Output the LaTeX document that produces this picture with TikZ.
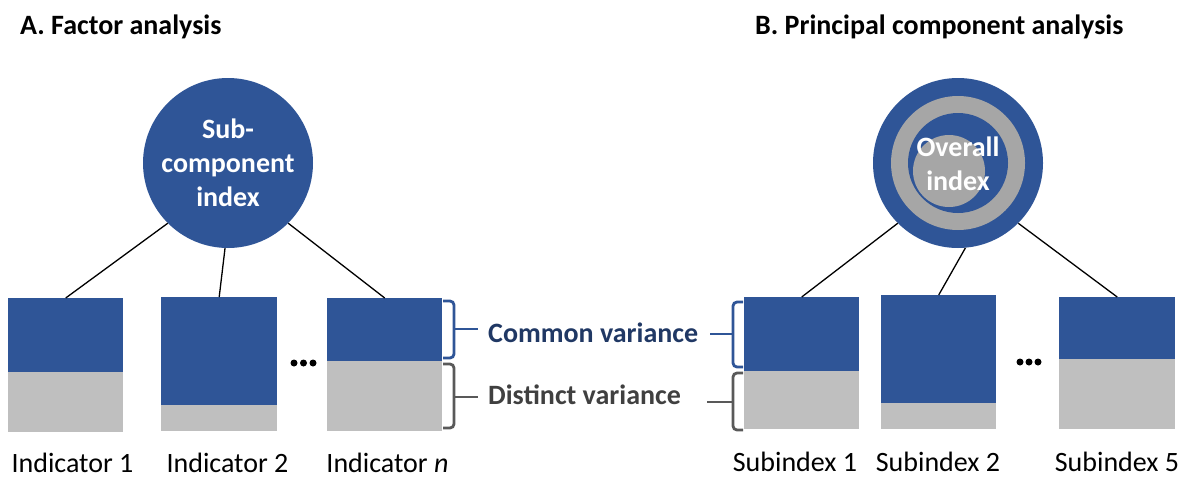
\documentclass[tikz,border=0pt]{standalone}
\usepackage{fontspec}
\setmainfont{Carlito}
\definecolor{mblue}{HTML}{2F5597}
\definecolor{mgray}{HTML}{BFBFBF}
\definecolor{ringgray}{HTML}{A6A6A6}
\definecolor{txtblue}{HTML}{203864}
\definecolor{brgray}{HTML}{595959}
\definecolor{txtgray}{HTML}{404040}
\newcommand{\bigfont}{\fontsize{28pt}{35pt}\selectfont}
\newcommand{\circfont}{\fontsize{28pt}{34pt}\selectfont}
\tikzset{
  bluepart/.style={rectangle, fill=mblue, inner sep=0pt, anchor=north west, minimum width=#1},
  graypart/.style={rectangle, fill=mgray, inner sep=0pt, anchor=north west, minimum width=#1},
  bigcirc/.style={circle, fill=mblue, inner sep=0pt, minimum size=170pt, text=white, font=\circfont\bfseries, align=center},
  link/.style={draw=black, line width=1.3pt},
  lbl/.style={inner sep=0pt, anchor=base, font=\bigfont},
  title/.style={inner sep=0pt, anchor=base west, font=\bigfont\bfseries},
  brblue/.style={draw=mblue, line width=2.8pt, rounded corners=4pt},
  brgr/.style={draw=brgray, line width=2.8pt, rounded corners=4pt},
  dotc/.style={circle, fill=black, inner sep=0pt, minimum size=7pt}
}
\begin{document}
\begin{tikzpicture}[x=1pt,y=-1pt]
\useasboundingbox (0,0) rectangle (1183,477);
% titles
\node[title] (tA) at (20,34) {A. Factor analysis};
\node[title] (tB) at (755,34) {B. Principal component analysis};

% left circle
\node[bigcirc] (fa) at (228,163) {Sub-\\component\\index};

% left boxes
\node[bluepart=115pt, minimum height=74pt] (lb1) at (8,298) {};
\node[graypart=115pt, minimum height=60pt] (lg1) at (8,372) {};
\node[bluepart=116pt, minimum height=108pt] (lb2) at (161,297) {};
\node[graypart=116pt, minimum height=26pt] (lg2) at (161,405) {};
\node[bluepart=115pt, minimum height=63pt] (lb3) at (327,298) {};
\node[graypart=115pt, minimum height=70pt] (lg3) at (327,361) {};

\draw[link] (lb1.north) -- (fa.-135);
\draw[link] (lb2.north) -- (fa.-92);
\draw[link] (lb3.north) -- (fa.-45);

% left dots
\node[dotc] (ld1) at (294,363) {};
\node[dotc] (ld2) at (303.5,363) {};
\node[dotc] (ld3) at (313,363) {};

% left labels
\node[lbl] (li1) at (72.5,472) {Indicator 1};
\node[lbl] (li2) at (227.5,472) {Indicator 2};
\node[lbl] (li3) at (387.5,472) {Indicator \textit{n}};

% right circle
\node[bigcirc] (pca) at (958,163) {};
\fill[ringgray] (pca.center) circle[radius=67];
\fill[mblue] (pca.center) circle[radius=50];
\fill[ringgray] (949,171) circle[radius=36];
\node[inner sep=0pt, text=white, font=\circfont\bfseries, align=center] (pcat) at (958,164) {Overall\\index};

% right boxes
\node[bluepart=115pt, minimum height=74pt] (rb1) at (744,297) {};
\node[graypart=115pt, minimum height=58pt] (rg1) at (744,371) {};
\node[bluepart=115pt, minimum height=108pt] (rb2) at (881,295) {};
\node[graypart=115pt, minimum height=26pt] (rg2) at (881,403) {};
\node[bluepart=116pt, minimum height=62pt] (rb3) at (1059,297) {};
\node[graypart=116pt, minimum height=70pt] (rg3) at (1059,359) {};

\draw[link] (rb1.north) -- (pca.-135);
\draw[link] (rb2.north) -- (pca.-85);
\draw[link] (rb3.north) -- (pca.-45);

% right dots
\node[dotc] (rd1) at (1020,362) {};
\node[dotc] (rd2) at (1029,362) {};
\node[dotc] (rd3) at (1038,362) {};

% right labels
\node[lbl] (ri1) at (795,471) {Subindex 1};
\node[lbl] (ri2) at (938,471) {Subindex 2};
\node[lbl] (ri3) at (1117,471) {Subindex 5};

% variance labels
\node[inner sep=0pt, anchor=base west, font=\bigfont\bfseries, text=txtblue] (cv) at (488,342) {Common variance};
\node[inner sep=0pt, anchor=base west, font=\bigfont\bfseries, text=txtgray] (dv) at (488,404) {Distinct variance};

% left brackets
\draw[brblue] (443,301) -- (454,301) -- (454,358) -- (443,358);
\draw[brblue, rounded corners=0pt] (454,329) -- (478,329);
\draw[brgr] (443,364) -- (454,364) -- (454,428) -- (443,428);
\draw[brgr, rounded corners=0pt] (454,397) -- (478,397);

% right brackets
\draw[brblue] (743,302) -- (733,302) -- (733,367) -- (743,367);
\draw[brblue, rounded corners=0pt] (710,334) -- (733,334);
\draw[brgr] (743,373) -- (733,373) -- (733,430) -- (743,430);
\draw[brgr, rounded corners=0pt] (707,402) -- (733,402);
\end{tikzpicture}
\end{document}
